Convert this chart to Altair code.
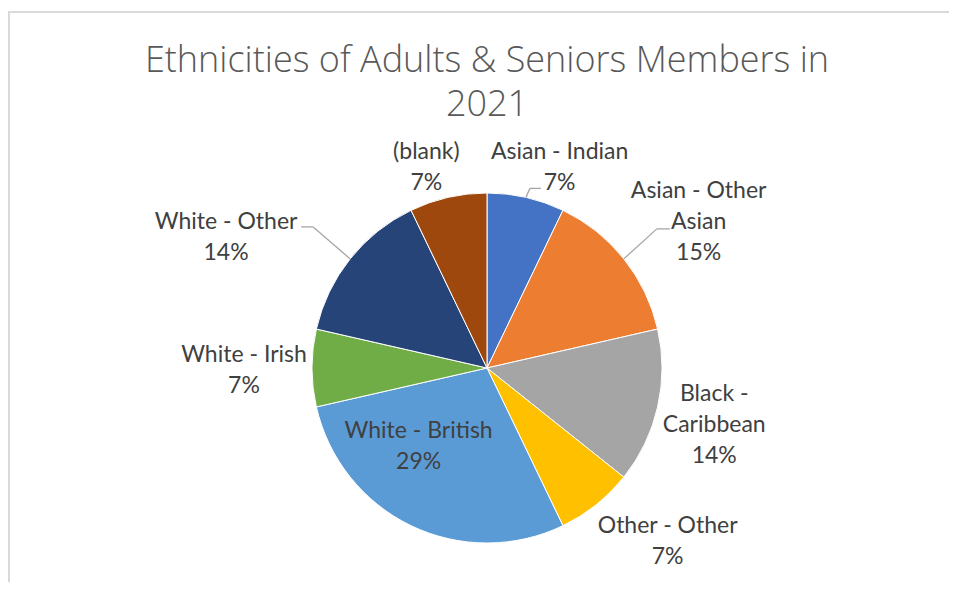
import altair as alt
import pandas as pd

# ---- data ----
categories = ["Asian - Indian", "Asian - Other Asian", "Black - Caribbean", "Other - Other",
              "White - British", "White - Irish", "White - Other", "(blank)"]
counts = [1, 2, 2, 1, 4, 1, 2, 1]
pct_labels = ["7%", "15%", "14%", "7%", "29%", "7%", "14%", "7%"]
label_names = ["Asian - Indian", "Asian - Other\nAsian", "Black -\nCaribbean", "Other - Other",
               "White - British", "White - Irish", "White - Other", "(blank)"]
colors = ["#4472C4", "#ED7D31", "#A5A5A5", "#FFC000", "#5B9BD5", "#70AD47", "#264478", "#9E480E"]
title_lines = ["Ethnicities of Adults & Seniors Members in", "2021"]

# ---- layout (not data) ----
W, H = 941, 574
CX, CY, R = 479, 360, 175
LH = 31
label_radius = [205, 240, 230, 240, 100, 243, 280, 205]
label_dx = [27, 24, 3, 31, -25, 0, -42, -15]
label_dy = [-1, 4, 6, -14, -12, 2, 44, -1]
has_leader = [1, 1, 0, 0, 0, 0, 1, 0]
elbow_dx = [4, 33, 0, 0, 0, 0, -37, 0]
elbow_dy = [-9, -30, 0, 0, 0, 0, -32, 0]
tail_dx = [11, 13, 0, 0, 0, 0, -12, 0]

labels_full = [f"{n}\n{p}" for n, p in zip(label_names, pct_labels)]
df = pd.DataFrame({
    "category": categories,
    "count": counts,
    "label": labels_full,
    "nl": [s.count("\n") + 1 for s in labels_full],
    "idx": list(range(len(categories))),
    "lr": label_radius, "ldx": label_dx, "ldy": label_dy,
    "lead": has_leader, "edx": elbow_dx, "edy": elbow_dy, "tdx": tail_dx,
})

base = alt.Chart(df)

pie = base.mark_arc(outerRadius=R, stroke="white", strokeWidth=1).encode(
    theta=alt.Theta("count:Q", stack=True),
    order=alt.Order("idx:Q"),
    color=alt.Color("category:N", scale=alt.Scale(domain=categories, range=colors), legend=None),
    x=alt.value(CX), y=alt.value(CY),
)

geo = base.transform_joinaggregate(
    total="sum(count)"
).transform_window(
    cum="sum(count)", sort=[alt.SortField("idx", order="ascending")], frame=[None, 0]
).transform_calculate(
    mid="(datum.cum - datum.count/2) / datum.total * 2 * PI",
).transform_calculate(
    sx=f"{CX} + {R} * sin(datum.mid)",
    sy=f"{CY} - {R} * cos(datum.mid)",
    lx=f"{CX} + datum.lr * sin(datum.mid) + datum.ldx",
    ly=f"{CY} - datum.lr * cos(datum.mid) + datum.ldy - (datum.nl - 1) * {LH} / 2",
).transform_calculate(
    ex="datum.sx + datum.edx",
    ey="datum.sy + datum.edy",
).transform_calculate(
    tx="datum.ex + datum.tdx",
)

labels = geo.mark_text(
    font="Lato", fontSize=23, color="#404040", align="center", baseline="middle",
    lineBreak="\n", lineHeight=LH,
).encode(
    x=alt.X("lx:Q", scale=None),
    y=alt.Y("ly:Q", scale=None),
    text="label:N",
)

lead1 = geo.transform_filter("datum.lead == 1").mark_rule(color="#A6A6A6", strokeWidth=1.3).encode(
    x=alt.X("sx:Q", scale=None), y=alt.Y("sy:Q", scale=None),
    x2="ex:Q", y2="ey:Q",
)
lead2 = geo.transform_filter("datum.lead == 1").mark_rule(color="#A6A6A6", strokeWidth=1.3).encode(
    x=alt.X("ex:Q", scale=None), y=alt.Y("ey:Q", scale=None),
    x2="tx:Q", y2="ey:Q",
)

one = alt.Chart(pd.DataFrame({"title": ["\n".join(title_lines)]}))
title = one.mark_text(
    font="Open Sans", fontSize=36, fontWeight=300, color="#595959", align="center",
    baseline="middle", lineBreak="\n", lineHeight=44,
).encode(x=alt.value(CX), y=alt.value(53), text="title:N")

frame_top = one.mark_rule(color="#D9D9D9", strokeWidth=2).encode(
    x=alt.value(0), x2=alt.value(W), y=alt.value(4)
)
frame_left = one.mark_rule(color="#D9D9D9", strokeWidth=2).encode(
    x=alt.value(1), y=alt.value(4), y2=alt.value(H)
)

chart = alt.layer(frame_top, frame_left, title, pie, lead1, lead2, labels).properties(
    width=W, height=H,
    autosize=alt.AutoSizeParams(type="none"),
    padding=0,
).configure_view(stroke=None)

chart.save("out.html", embed_options={"renderer": "svg", "actions": False})
